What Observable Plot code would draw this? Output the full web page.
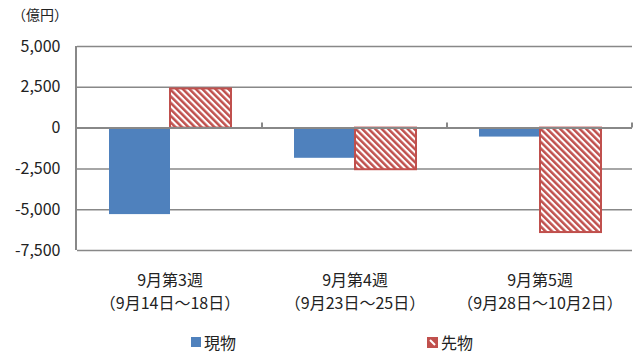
<!DOCTYPE html>
<html><head><meta charset="utf-8">
<script src="https://cdn.jsdelivr.net/npm/d3@7"></script>
<script src="https://cdn.jsdelivr.net/npm/@observablehq/plot@0.6"></script>
<style>
body{margin:0;background:#fff;font-family:"Noto Sans CJK JP","Noto Sans",sans-serif;color:#222;}
#wrap{position:relative;width:640px;height:360px;overflow:hidden;}
#unit{position:absolute;left:12px;top:4px;font-size:14px;}
.leg{position:absolute;top:330px;font-size:16px;display:flex;align-items:center;gap:3px;}
</style></head><body><div id="wrap"><div id="unit"></div></div>
<script>
const weeks = ["9月第3週\n（9月14日～18日）", "9月第4週\n（9月23日～25日）", "9月第5週\n（9月28日～10月2日）"];
const types = ["現物", "先物"];
const spot = [-5300, -1850, -550];
const futures = [2400, -2550, -6400];
const yTicks = [-7500, -5000, -2500, 0, 2500, 5000];
const unitLabel = "（億円）";

const data = weeks.flatMap((w, i) => [
  {week: w, type: types[0], value: spot[i]},
  {week: w, type: types[1], value: futures[i]}
]);
const fmt = d => d.toLocaleString("en-US");
const font = '"Noto Sans CJK JP","Noto Sans",sans-serif';

const chart = Plot.plot({
  width: 640, height: 325,
  marginTop: 46, marginBottom: 75, marginLeft: 76, marginRight: 8,
  style: {fontFamily: font, fontSize: "16px", color: "#222", background: "#fff", overflow: "visible"},
  fx: {domain: weeks, padding: 0, label: null},
  x: {domain: types, paddingInner: 0, paddingOuter: 0.5, axis: null},
  y: {domain: [-7500, 5000], label: null},
  marks: [
    Plot.gridY(yTicks, {stroke: "#888", strokeOpacity: 1, strokeWidth: 1.5}),
    Plot.barY(data.filter(d => d.type === types[0]), {fx: "week", x: "type", y: "value", fill: "#4F81BD"}),
    Plot.barY(data.filter(d => d.type === types[1]), {fx: "week", x: "type", y: "value", fill: "url(#hatch)", stroke: "#C0504D", strokeWidth: 2}),
    Plot.ruleY([0], {stroke: "#888", strokeWidth: 2}),
    Plot.axisY(yTicks, {tickSize: 0, tickPadding: 17, fontSize: 16, tickFormat: fmt, style: {letterSpacing: "0.8px"}}),
    Plot.axisFx({anchor: "bottom", tickSize: 0, tickPadding: 19, fontSize: 16, lineHeight: 1.45, label: null})
  ]
});

const svg = d3.select(chart);
const defs = svg.insert("defs", ":first-child");
const pat = defs.append("pattern").attr("id", "hatch").attr("patternUnits", "userSpaceOnUse")
  .attr("width", 4.6).attr("height", 4.6).attr("patternTransform", "rotate(-45)");
pat.append("rect").attr("width", 4.6).attr("height", 4.6).attr("fill", "#fff");
pat.append("rect").attr("width", 2.5).attr("height", 4.6).attr("fill", "#C0504D");

const ys = chart.scale("y"), fxs = chart.scale("fx");
const x0 = fxs.range[0];
const g = svg.append("g").attr("stroke", "#888").attr("stroke-width", 2);
g.append("line").attr("x1", x0).attr("x2", x0).attr("y1", ys.apply(5000)).attr("y2", ys.apply(-7500));
weeks.forEach(w => {
  const xb = fxs.apply(w) + fxs.bandwidth;
  g.append("line").attr("x1", xb).attr("x2", xb).attr("y1", ys.apply(0)).attr("y2", ys.apply(0) - 5);
});

const wrap = document.getElementById("wrap");
wrap.insertBefore(chart, wrap.firstChild);
document.getElementById("unit").textContent = unitLabel;

const l1 = document.createElement("div");
l1.className = "leg"; l1.style.left = "191px";
l1.innerHTML = '<span style="display:inline-block;width:10px;height:10px;background:#4F81BD"></span><span>' + types[0] + '</span>';
wrap.appendChild(l1);
const l2 = document.createElement("div");
l2.className = "leg"; l2.style.left = "427px";
l2.innerHTML = '<svg width="11" height="11"><rect x="0.5" y="0.5" width="10" height="10" fill="#C0504D" stroke="#C0504D"/><line x1="3" y1="3" x2="8" y2="8" stroke="#fff" stroke-width="2"/></svg><span>' + types[1] + '</span>';
wrap.appendChild(l2);
</script></body></html>
